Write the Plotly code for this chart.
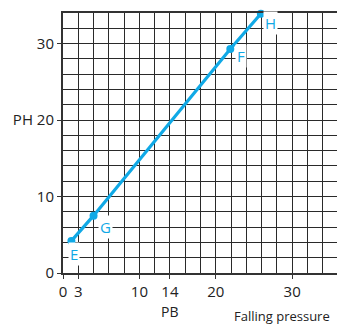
import plotly.graph_objects as go

# Data
point_names = ["E", "G", "F", "H"]
pb_values = [1.1, 4.0, 21.9, 25.9]
ph_values = [4.2, 7.5, 29.3, 33.9]

x_tick_vals = [0, 2, 10, 14, 20, 30]
x_tick_text = ["0", "3", "10", "14", "20", "30"]
y_tick_vals = [0, 10, 20, 30]
y_tick_text = ["0", "10", "PH 20", "30"]

# label offsets in pixels (dx, dy)
label_shifts = [(3, -13), (12, -11), (11, -7), (10, -9)]

blue = "#10a9e6"
grid = "#2a2a2a"
text_col = "#222"
font = "Open Sans, DejaVu Sans, sans-serif"

# The page body has an 8px margin, so the figure is sized/offset to compensate
OFF = 8
W, H = 345 - OFF, 327 - OFF
ml, mr, mt, mb = 63 - OFF, 7, 13 - OFF, 54
pw, ph = W - ml - mr, H - mt - mb

fig = go.Figure()
fig.add_trace(go.Scatter(
    x=pb_values, y=ph_values, mode="lines+markers",
    line=dict(color=blue, width=3.2),
    marker=dict(color=blue, size=8),
    hoverinfo="skip", showlegend=False, cliponaxis=False,
))

for name, x, y, (dx, dy) in zip(point_names, pb_values, ph_values, label_shifts):
    fig.add_annotation(
        x=x, y=y, xref="x", yref="y", text=name, showarrow=False,
        xshift=dx, yshift=dy, bgcolor="white", borderpad=1,
        font=dict(family=font, size=15, color=blue),
    )

fig.add_annotation(
    x=14, y=0, xref="x", yref="y", text="PB", showarrow=False,
    yshift=-38, font=dict(family=font, size=14, color=text_col),
)
fig.add_annotation(
    x=(232 - OFF - ml) / pw, y=(H - mb - (316 - OFF)) / ph, xref="paper", yref="paper",
    text="Falling pressure", showarrow=False, xanchor="left", yanchor="middle",
    font=dict(family=font, size=13, color=text_col),
)

axis_common = dict(
    showgrid=True, gridcolor=grid, gridwidth=1.1,
    minor=dict(dtick=2, tick0=0, showgrid=True, gridcolor=grid, gridwidth=1.1),
    showline=True, linecolor="#333", linewidth=2, mirror=True,
    ticks="outside", ticklen=4, tickcolor="#333",
    tickfont=dict(family=font, size=15, color=text_col),
    zeroline=False, fixedrange=True, automargin=False,
)
fig.update_xaxes(range=[0, 36], tickvals=x_tick_vals, ticktext=x_tick_text, **axis_common)
fig.update_yaxes(range=[0, 34], tickvals=y_tick_vals, ticktext=y_tick_text, **axis_common)
fig.update_layout(
    width=W, height=H, template="none",
    margin=dict(l=ml, r=mr, t=mt, b=mb, pad=0, autoexpand=False),
    paper_bgcolor="white", plot_bgcolor="white",
)
fig.write_html("out.html", config={"displayModeBar": False})
